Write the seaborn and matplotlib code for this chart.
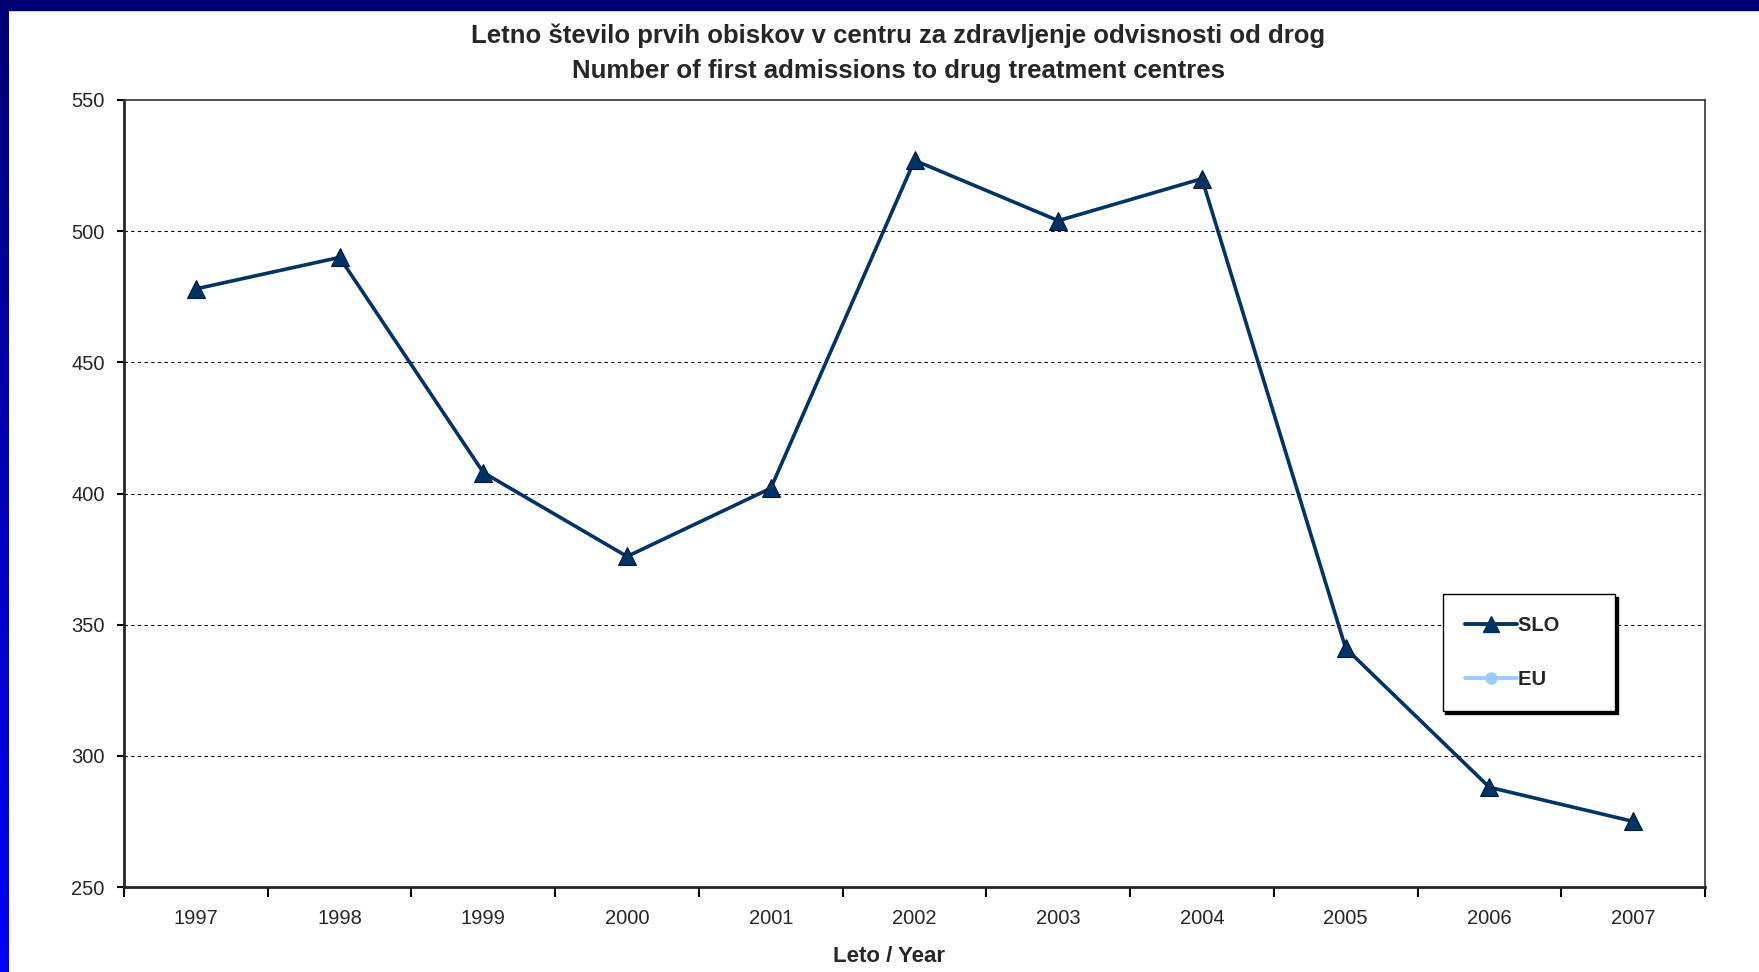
import numpy as np
import pandas as pd
import matplotlib
matplotlib.use("Agg")
import matplotlib.pyplot as plt
import seaborn as sns
from matplotlib.lines import Line2D
from matplotlib.patches import Rectangle
from matplotlib.colors import LinearSegmentedColormap

# Data
years = ['1997', '1998', '1999', '2000', '2001', '2002', '2003', '2004', '2005', '2006', '2007']
slo_values = [478, 490, 408, 376, 402, 527, 504, 520, 341, 288, 275]
y_ticks = [250, 300, 350, 400, 450, 500, 550]

df = pd.DataFrame({'year': years, 'SLO': slo_values})

sns.set_style("white")
plt.rcParams['font.family'] = ['Liberation Sans', 'DejaVu Sans']

fig = plt.figure(figsize=(17.59, 9.72), dpi=100)
fig.patch.set_facecolor('white')

# frame bands (slide background)
fig.patches.append(Rectangle((0, 1 - 10 / 972), 1, 10 / 972, transform=fig.transFigure,
                             color='#000070', zorder=0))
grad_ax = fig.add_axes([0, 0, 9 / 1759, 1 - 10 / 972])
grad = np.linspace(0, 1, 256).reshape(-1, 1)
cmap = LinearSegmentedColormap.from_list('band', ['#0000FF', '#000078'])
grad_ax.imshow(grad, aspect='auto', cmap=cmap, origin='lower')
grad_ax.axis('off')

ax = fig.add_axes([124 / 1759, 1 - 887 / 972, (1705 - 124) / 1759, (887 - 100) / 972])
sns.lineplot(data=df, x='year', y='SLO', ax=ax, color='#003366', linewidth=2.6,
             marker='^', markersize=13, markeredgecolor='#001a33', markeredgewidth=0.8,
             sort=False)

ax.set_xlim(-0.5, len(years) - 0.5)
ax.set_ylim(250, 550)
ax.set_yticks(y_ticks)
ax.set_yticklabels([str(v) for v in y_ticks], fontsize=14.5)
ax.set_xticks(range(len(years)))
ax.set_xticklabels(years, fontsize=14.5)
ax.set_xticks(np.arange(-0.5, len(years), 1), minor=True)
ax.tick_params(axis='x', which='major', length=0, pad=16)
ax.tick_params(axis='x', which='minor', length=7, width=1.5, color='black', direction='out')
ax.tick_params(axis='y', length=5, width=1.5, color='black', direction='out', pad=9)
ax.yaxis.set_ticks_position('left')
ax.xaxis.set_ticks_position('bottom')
ax.xaxis.set_tick_params(which='minor', bottom=True)

for v in y_ticks[1:-1]:
    ax.axhline(v, color='black', linestyle=(0, (3, 3)), linewidth=0.8, zorder=0)

for side in ['top', 'right']:
    ax.spines[side].set_color('#333333')
    ax.spines[side].set_linewidth(1.2)
ax.spines['left'].set_linewidth(2)
ax.spines['bottom'].set_linewidth(2)
for s in ax.spines.values():
    s.set_visible(True)

ax.set_xlabel('')
ax.set_ylabel('')

handles = [
    Line2D([], [], color='#003366', linewidth=2.8, marker='^', markersize=11),
    Line2D([], [], color='#99CCFF', linewidth=2.8, marker='o', markersize=8),
]
leg = ax.legend(handles, ['SLO', 'EU'], loc='upper left', bbox_to_anchor=(0.834, 0.372),
                frameon=True, fancybox=False, shadow={'color': 'black', 'alpha': 1},
                edgecolor='black', handlelength=2.6, handletextpad=0.05,
                labelspacing=1.7, borderpad=1.1, borderaxespad=0,
                prop={'size': 14.5, 'weight': 'bold'})
leg._legend_box.align = 'left'
leg.get_frame().set_linewidth(1.0)
for t in leg.get_texts():
    t.set_text(t.get_text() + '      ')

fig.text(898 / 1759, 1 - 36 / 972, 'Letno število prvih obiskov v centru za zdravljenje odvisnosti od drog',
         ha='center', va='center', fontsize=18.5, fontweight='bold')
fig.text(898 / 1759, 1 - 71 / 972, 'Number of first admissions to drug treatment centres',
         ha='center', va='center', fontsize=18.5, fontweight='bold')
fig.text(889 / 1759, 1 - 956 / 972, 'Leto / Year', ha='center', va='center',
         fontsize=16, fontweight='bold')

plt.savefig('out.png', dpi=100)
